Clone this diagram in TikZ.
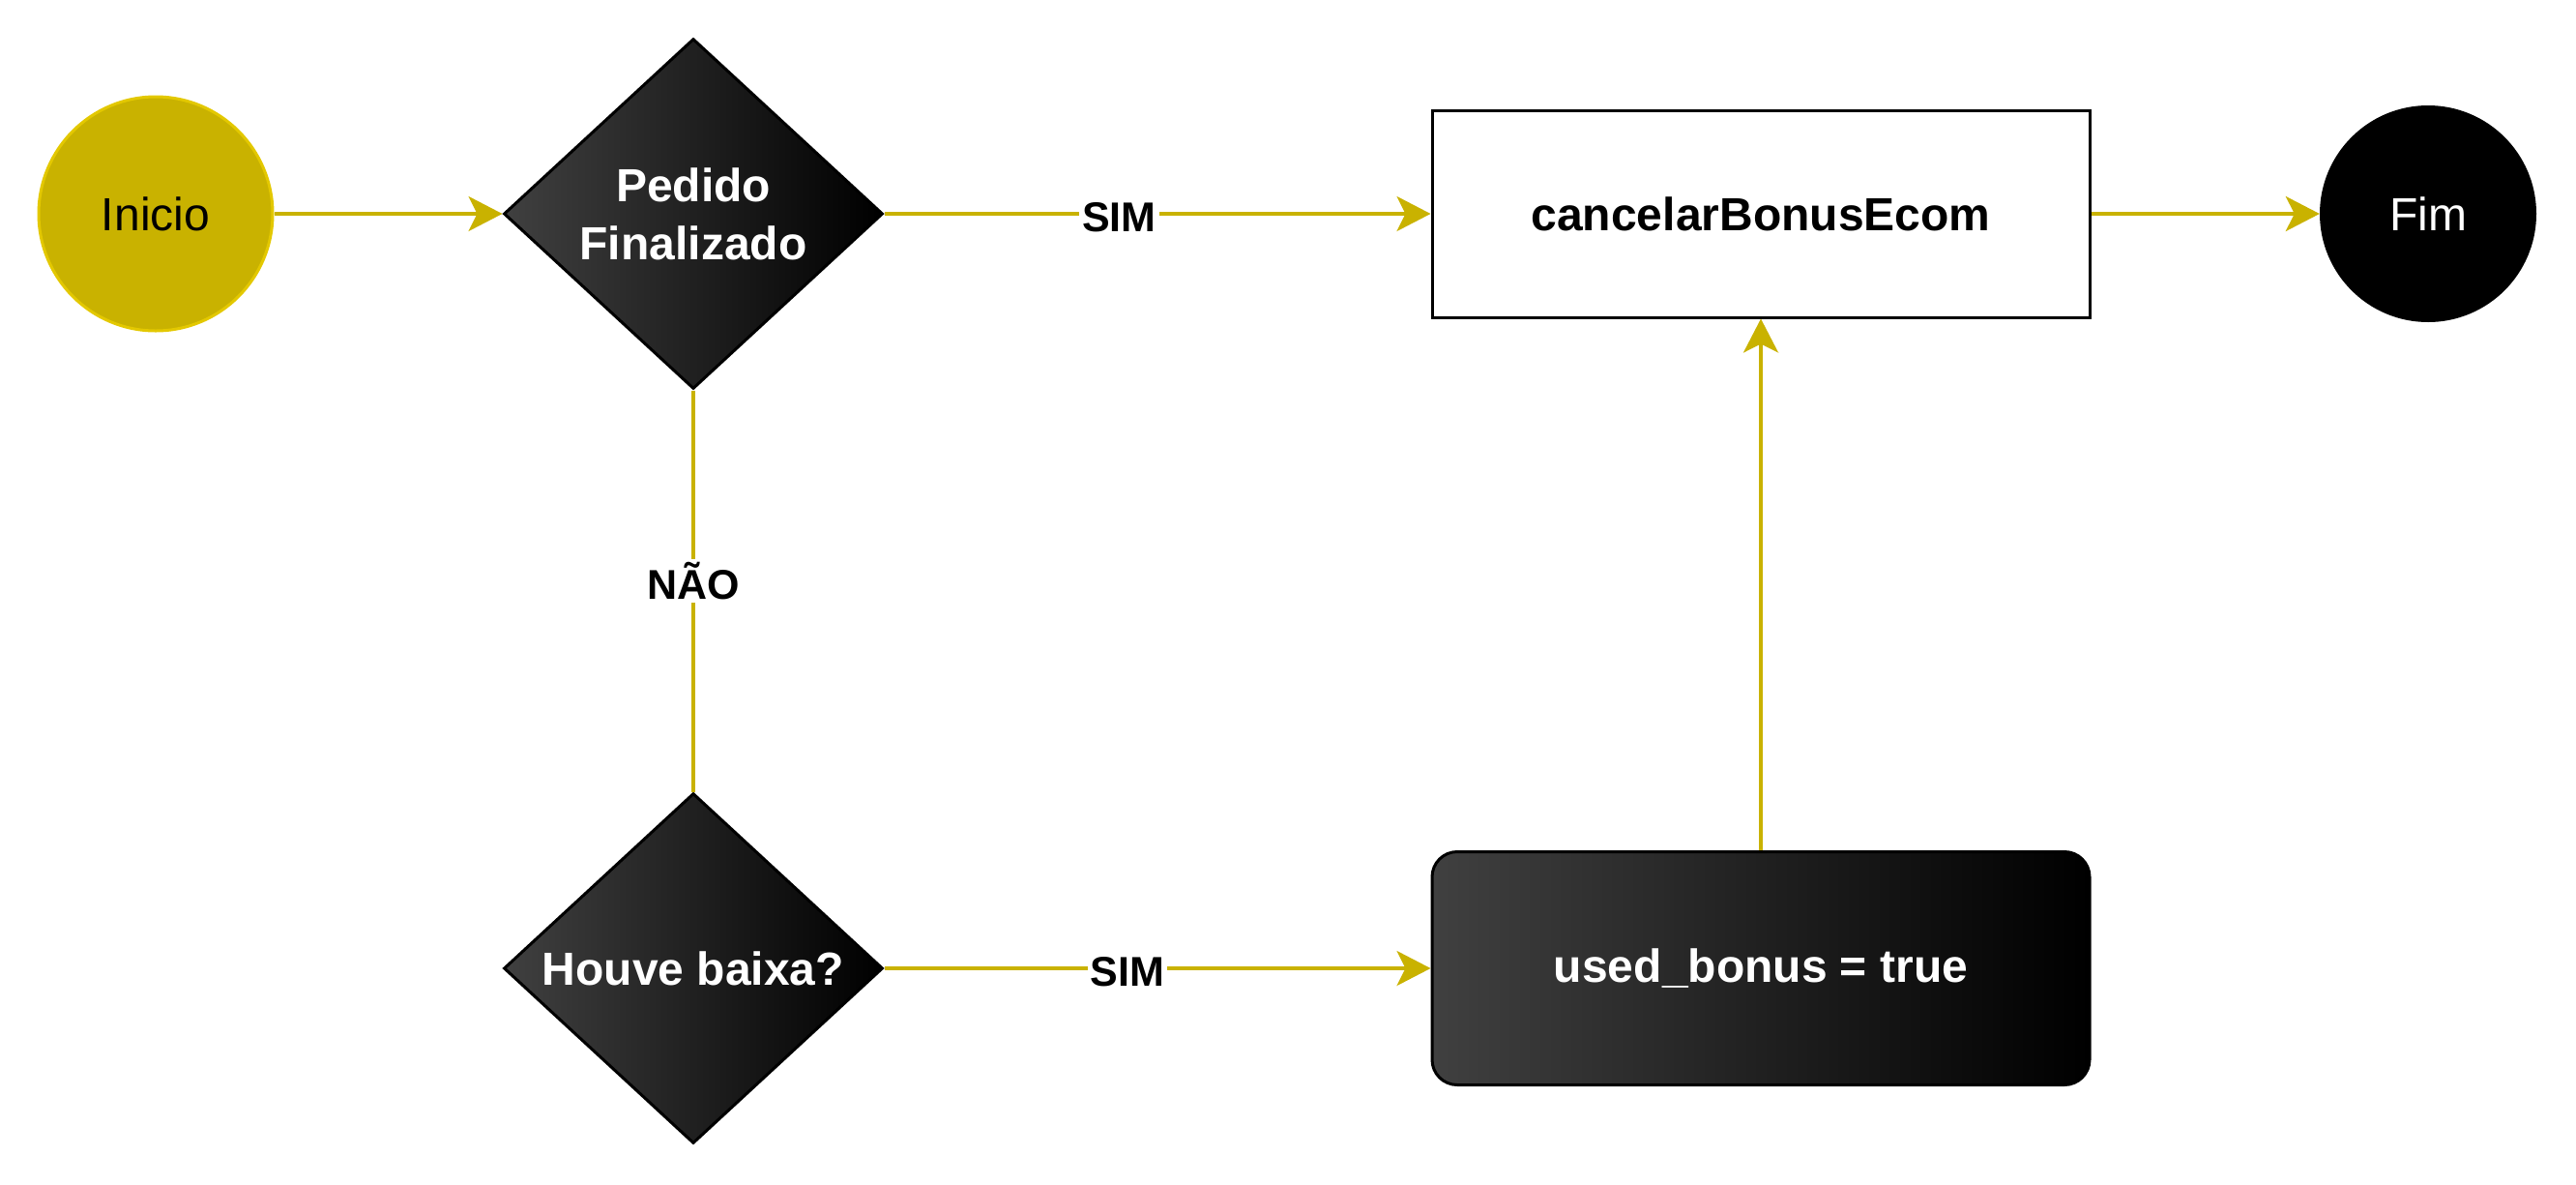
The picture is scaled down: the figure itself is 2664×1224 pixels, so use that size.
\documentclass[tikz,border=0pt]{standalone}
\usepackage{fontspec}
\setmainfont{Liberation Sans}
\usetikzlibrary{arrows.meta,shapes.geometric}
\definecolor{gold}{RGB}{201,178,0}
\definecolor{goldline}{RGB}{227,200,0}
\definecolor{darkgrad}{RGB}{64,64,64}
\tikzset{
  nodefont/.style={font=\fontsize{48}{60}\selectfont},
  startnode/.style={circle,minimum size=242pt,inner sep=0pt,fill=gold,draw=goldline,line width=3pt,nodefont,text=black},
  endnode/.style={circle,minimum size=224pt,inner sep=0pt,fill=black,nodefont,text=white},
  decision/.style={diamond,minimum width=392pt,minimum height=362pt,inner sep=0pt,draw=black,line width=3pt,
    left color=darkgrad,right color=black,text=white,nodefont,font=\fontsize{48}{60}\selectfont\bfseries,align=center},
  procbox/.style={rectangle,minimum width=680pt,minimum height=214pt,inner sep=0pt,draw=black,line width=3pt,fill=white,
    font=\fontsize{48}{60}\selectfont\bfseries,text=black},
  setbox/.style={rectangle,rounded corners=26pt,minimum width=680pt,minimum height=241pt,inner sep=0pt,draw=black,line width=3pt,
    left color=darkgrad,right color=black,text=white,font=\fontsize{48}{60}\selectfont\bfseries},
  conn/.style={draw=gold,line width=3.5pt,-{Stealth[length=35pt,width=36pt,inset=9pt]}},
  plainconn/.style={draw=gold,line width=3.5pt},
  lbl/.style={fill=white,inner sep=3pt,text=black,font=\fontsize{43}{50}\selectfont\bfseries}
}
\begin{document}
\begin{tikzpicture}[x=1pt,y=-1pt]
\useasboundingbox (0,0) rectangle (2664,1224);
\node[startnode] (inicio) at (161,221) {Inicio};
\node[decision] (d1) at (717,221) {Pedido\\Finalizado};
\node[procbox] (cancel) at (1821,221) {cancelarBonusEcom};
\node[endnode] (fim) at (2511,221) {Fim};
\node[decision] (d2) at (717,1001) {Houve baixa?};
\node[setbox] (used) at (1821,1001) {used\_bonus = true};

\draw[conn] (inicio) -- (d1);
\draw[conn] (d1) -- node[lbl,pos=0.43,yshift=-4pt] {SIM} (cancel);
\draw[plainconn] (d1.south) -- node[lbl,pos=0.475] {NÃO} (d2.north);
\draw[conn] (d2) -- node[lbl,pos=0.445,yshift=-4pt] {SIM} (used);
\draw[conn] (used) -- (cancel);
\draw[conn] (cancel) -- (fim);
\end{tikzpicture}
\end{document}
